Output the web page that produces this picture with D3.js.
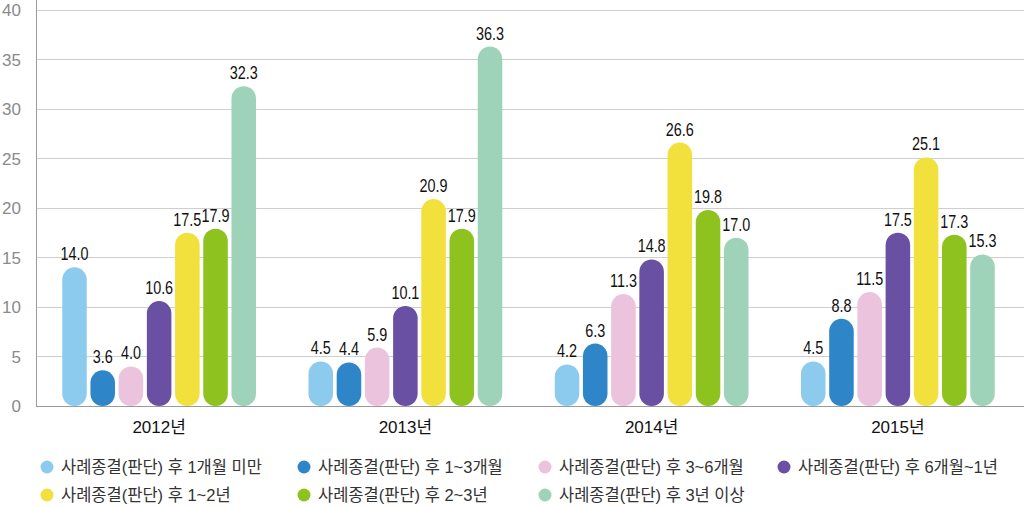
<!DOCTYPE html>
<html>
<head>
    <meta charset="utf-8">
    <title>사례종결 후 기간</title>
    <style>
        body { margin: 0; background: #fff; }
        svg text { font-family: "Liberation Sans", Arial, "Noto Sans CJK KR", sans-serif; }
        .grid line { stroke: #cfcfcf; stroke-width: 1px; }
        .tick-label { font-size: 17px; fill: #8a8a8a; }
        .value { font-size: 18px; fill: #111; }
        .year { font-size: 17px; fill: #111; }
        .legend text { font-size: 16.5px; fill: #333; }
    </style>
</head>
<body>
    <div id="chart"></div>

    <script src="https://d3js.org/d3.v7.min.js"></script>
    <script>
        // data
        const years = ["2012년", "2013년", "2014년", "2015년"];
        const series = [
            "사례종결(판단) 후 1개월 미만",
            "사례종결(판단) 후 1~3개월",
            "사례종결(판단) 후 3~6개월",
            "사례종결(판단) 후 6개월~1년",
            "사례종결(판단) 후 1~2년",
            "사례종결(판단) 후 2~3년",
            "사례종결(판단) 후 3년 이상"
        ];
        const values2012 = [14.0, 3.6, 4.0, 10.6, 17.5, 17.9, 32.3];
        const values2013 = [4.5, 4.4, 5.9, 10.1, 20.9, 17.9, 36.3];
        const values2014 = [4.2, 6.3, 11.3, 14.8, 26.6, 19.8, 17.0];
        const values2015 = [4.5, 8.8, 11.5, 17.5, 25.1, 17.3, 15.3];
        const yTicks = [0, 5, 10, 15, 20, 25, 30, 35, 40];
        const colors = ["#8dcbee", "#2e86c8", "#ecc3dd", "#6a50a2", "#f2e03c", "#8dc21f", "#9ed3ba"];

        const allValues = [values2012, values2013, values2014, values2015];

        const width = 1024;
        const height = 507;

        const svg = d3.select("#chart")
            .append("svg")
            .attr("width", width)
            .attr("height", height);

        const y = d3.scaleLinear().domain([0, 41]).range([406, 0]);
        const x0 = d3.scaleBand().domain(years).range([36, 1021]);
        const x1 = d3.scaleBand()
            .domain(d3.range(series.length))
            .range([0, x0.bandwidth()])
            .paddingInner(0.13)
            .paddingOuter(0.93);
        const color = d3.scaleOrdinal().domain(d3.range(series.length)).range(colors);

        // gridlines
        svg.append("g")
            .attr("class", "grid")
            .selectAll("line")
            .data(yTicks.filter(d => d > 0))
            .enter()
            .append("line")
            .attr("x1", 36)
            .attr("x2", width)
            .attr("y1", d => Math.round(y(d)) + 0.5)
            .attr("y2", d => Math.round(y(d)) + 0.5);

        // y tick labels
        svg.append("g")
            .selectAll("text")
            .data(yTicks)
            .enter()
            .append("text")
            .attr("class", "tick-label")
            .attr("x", 21)
            .attr("y", d => y(d))
            .attr("dy", "0.36em")
            .attr("text-anchor", "end")
            .text(d => d);

        // bars
        const groups = svg.append("g")
            .selectAll("g")
            .data(allValues)
            .enter()
            .append("g")
            .attr("transform", (d, i) => `translate(${x0(years[i])},0)`);

        const bw = x1.bandwidth();

        groups.selectAll("rect")
            .data(d => d)
            .enter()
            .append("rect")
            .attr("x", (d, i) => x1(i))
            .attr("y", d => y(d))
            .attr("width", bw)
            .attr("height", d => y(0) - y(d))
            .attr("rx", bw / 2)
            .attr("ry", d => Math.min(bw / 2, (y(0) - y(d)) / 2))
            .attr("fill", (d, i) => color(i));

        // value labels, squeezed sideways like the condensed face of the original
        groups.selectAll("text")
            .data(d => d)
            .enter()
            .append("text")
            .attr("class", "value")
            .attr("transform", (d, i) => `translate(${x1(i) + bw / 2},${y(d) - 7}) scale(0.8,1)`)
            .attr("text-anchor", "middle")
            .text(d => d.toFixed(1));

        // axes lines
        svg.append("line")
            .attr("x1", 36.5).attr("x2", 36.5)
            .attr("y1", 0).attr("y2", 406)
            .attr("stroke", "#9a9a9a");
        svg.append("line")
            .attr("x1", 36).attr("x2", width)
            .attr("y1", 406.5).attr("y2", 406.5)
            .attr("stroke", "#9a9a9a");

        // year labels
        svg.append("g")
            .selectAll("text")
            .data(years)
            .enter()
            .append("text")
            .attr("class", "year")
            .attr("x", d => x0(d) + x0.bandwidth() / 2)
            .attr("y", 433)
            .attr("text-anchor", "middle")
            .text(d => d);

        // legend
        const legendX = [47, 304, 545, 784];
        const legendY = [467, 495];
        const legend = svg.append("g")
            .attr("class", "legend")
            .selectAll("g")
            .data(series)
            .enter()
            .append("g")
            .attr("transform", (d, i) => `translate(${legendX[i % 4]},${legendY[Math.floor(i / 4)]})`);

        legend.append("circle")
            .attr("r", 6.5)
            .attr("fill", (d, i) => color(i));

        legend.append("text")
            .attr("x", 14)
            .attr("dy", "0.36em")
            .text(d => d);
    </script>
</body>
</html>
